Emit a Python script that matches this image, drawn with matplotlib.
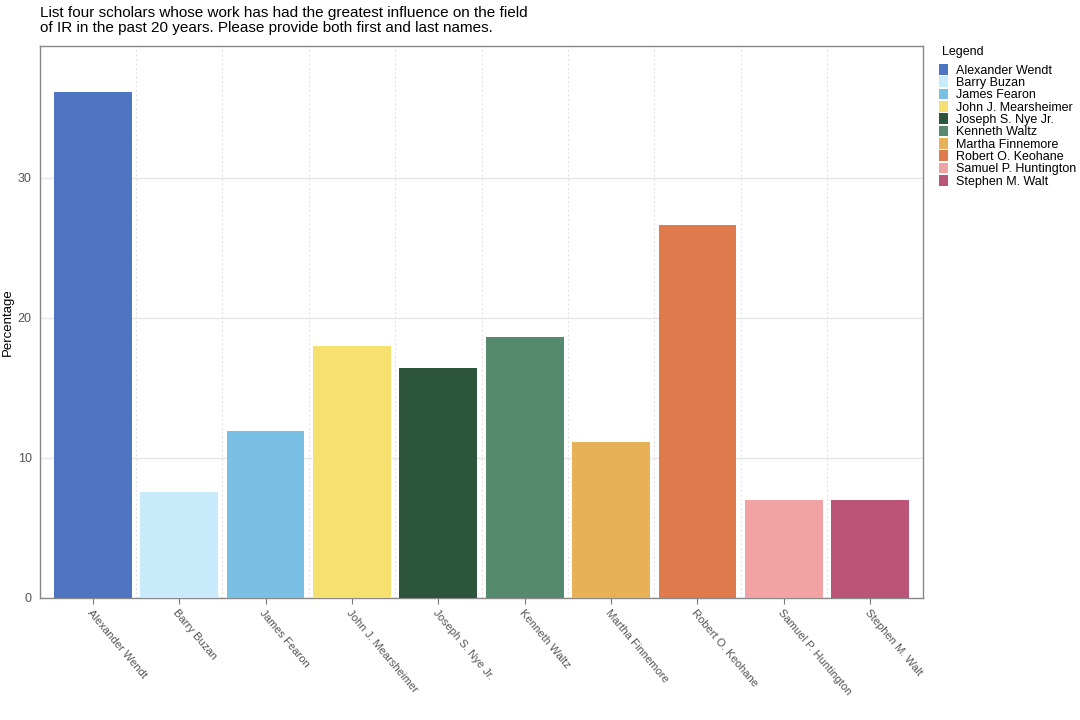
import matplotlib
matplotlib.use("Agg")
import matplotlib.pyplot as plt
from matplotlib.patches import Patch
import numpy as np

plt.rcParams['font.family'] = ['Liberation Sans', 'DejaVu Sans']

categories = ["Alexander Wendt", "Barry Buzan", "James Fearon", "John J. Mearsheimer",
              "Joseph S. Nye Jr.", "Kenneth Waltz", "Martha Finnemore", "Robert O. Keohane",
              "Samuel P. Huntington", "Stephen M. Walt"]
values = [36.1, 7.6, 11.9, 18.0, 16.4, 18.6, 11.1, 26.6, 7.0, 7.0]
colors = ["#4E74C2", "#C8EAFB", "#78BFE3", "#F6E070", "#2D553B",
          "#568A6E", "#E7B158", "#DE7A4B", "#F0A3A2", "#BA5577"]
title = ("List four scholars whose work has had the greatest influence on the field\n"
         "of IR in the past 20 years. Please provide both first and last names.")

fig = plt.figure(figsize=(10.8, 7.2), dpi=100)
ax = fig.add_axes([40/1080, 1-598/720, 883/1080, 552/720])

x = np.arange(len(categories))
ax.bar(x, values, width=0.9, color=colors, zorder=3)

ax.set_xlim(-0.61, len(categories) - 1 + 0.61)
ax.set_ylim(0, 39.4)
ax.set_yticks([0, 10, 20, 30])
ax.set_xticks(x)
ax.set_xticklabels(categories, rotation=-50, ha='left', va='top',
                   rotation_mode='anchor', fontsize=8.1, color='#555555')
ax.set_xticks(np.arange(len(categories) - 1) + 0.5, minor=True)
ax.tick_params(axis='x', which='minor', length=0)
ax.tick_params(axis='x', which='major', length=4, color='#777777', pad=3)
ax.tick_params(axis='y', length=0, labelsize=9, labelcolor='#555555', pad=6)

ax.grid(axis='y', which='major', color='#E6E6E6', linewidth=1, zorder=0)
ax.grid(axis='x', which='minor', color='#DDDDDD', linewidth=0.8, linestyle=(0, (1.5, 2.5)), zorder=0)
for s in ax.spines.values():
    s.set_color('#888888')
    s.set_linewidth(1)

ax.set_ylabel("Percentage", fontsize=9.5)
ax.yaxis.set_label_coords(-26/883, 0.5)

fig.text(40/1080, 1-6/720, title, ha='left', va='top', fontsize=11, linespacing=1.1)

fig.text(942/1080, 1-52/720, "Legend", ha='left', va='center', fontsize=9)
handles = [Patch(facecolor=c, edgecolor='none') for c in colors]
leg = fig.legend(handles, categories, loc='upper left',
                 bbox_to_anchor=(939/1080, 1-64/720), frameon=False,
                 fontsize=9, handlelength=0.75, handleheight=0.95,
                 handletextpad=0.6, labelspacing=-0.03, borderaxespad=0, borderpad=0)

fig.savefig("out.png", dpi=100)
